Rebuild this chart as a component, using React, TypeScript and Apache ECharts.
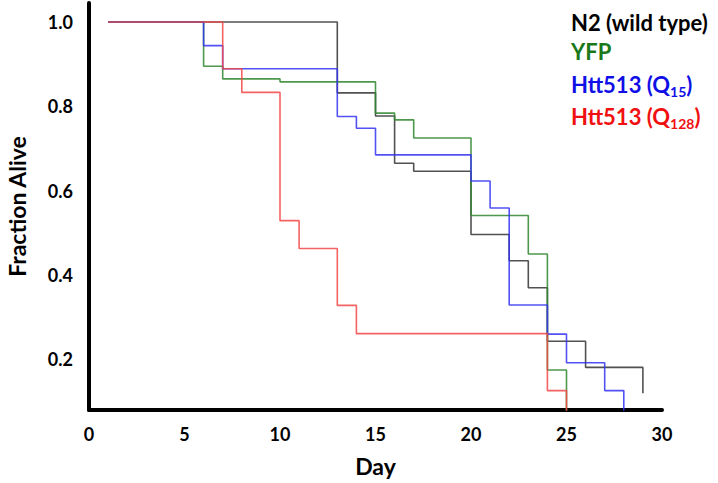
import React, { useEffect, useRef } from "react";
import * as echarts from "echarts";

// Kaplan–Meier style survival steps (day of event, fraction alive after it)
const n2Days = [1, 13, 15, 16, 17, 20, 22, 23, 24, 26, 29];
const n2Vals = [1.0, 0.832, 0.777, 0.665, 0.646, 0.496, 0.434, 0.37, 0.243, 0.181, 0.12];

const yfpDays = [1, 6, 7, 10, 15, 16, 17, 20, 23, 24, 25];
const yfpVals = [1.0, 0.895, 0.865, 0.858, 0.784, 0.768, 0.725, 0.541, 0.45, 0.175, 0];

const q15Days = [1, 6, 7, 13, 14, 15, 20, 21, 22, 24, 25, 27, 28];
const q15Vals = [1.0, 0.944, 0.889, 0.776, 0.748, 0.685, 0.623, 0.559, 0.329, 0.26, 0.192, 0.126, 0];

const q128Days = [1, 7, 8, 10, 11, 13, 14, 24, 25];
const q128Vals = [1.0, 0.889, 0.833, 0.529, 0.463, 0.328, 0.261, 0.126, 0];

const yTickLabels = [0.2, 0.4, 0.6, 0.8, 1.0];
const xTickLabels = [0, 5, 10, 15, 20, 25, 30];

const FONT = "Lato, 'Open Sans', sans-serif";

const pairs = (d: number[], v: number[]) => d.map((x, i) => [x, v[i]]);

export default function App() {
  const ref = useRef<HTMLDivElement>(null);
  useEffect(() => {
    document.body.style.margin = "0";
    const chart = echarts.init(ref.current!, null, { renderer: "svg" });
    const mk = (name: string, d: number[], v: number[], color: string) => ({
      name,
      type: "line",
      step: "end",
      data: pairs(d, v),
      showSymbol: false,
      symbol: "none",
      clip: true,
      lineStyle: { color, width: 1.6, opacity: 0.85 },
      emphasis: { disabled: true },
    });
    const legendStyle = (color: string) => ({
      a: { fontSize: 22, fontWeight: "bold", fill: color, fontFamily: FONT, lineHeight: 28, verticalAlign: "middle" },
      b: { fontSize: 14, fontWeight: "bold", fill: color, fontFamily: FONT, lineHeight: 16, verticalAlign: "bottom", padding: [10, 0, 0, 0] },
    });
    chart.setOption({
      animation: false,
      backgroundColor: "#fff",
      grid: { left: 89, top: 3, width: 573, height: 407, containLabel: false, outerBoundsMode: "none" },
      xAxis: {
        type: "value",
        min: 0,
        max: 30,
        interval: 5,
        name: "Day",
        nameLocation: "middle",
        nameGap: 44,
        nameTextStyle: { fontSize: 23, fontWeight: "bold", color: "#000", fontFamily: FONT },
        axisLine: { show: true, onZero: false, lineStyle: { color: "#000", width: 4 } },
        axisTick: { show: false },
        splitLine: { show: false },
        axisLabel: {
          customValues: xTickLabels,
          margin: 15,
          fontSize: 18,
          fontWeight: "bold",
          color: "#000",
          fontFamily: FONT,
        },
      },
      yAxis: {
        type: "value",
        min: 0.08,
        max: 1.045,
        name: "Fraction Alive",
        nameLocation: "middle",
        nameRotate: 90,
        nameGap: 61,
        nameTextStyle: { fontSize: 23, fontWeight: "bold", color: "#000", fontFamily: FONT },
        axisLine: { show: true, onZero: false, lineStyle: { color: "#000", width: 4 } },
        axisTick: { show: false },
        splitLine: { show: false },
        axisLabel: {
          customValues: yTickLabels,
          formatter: (v: number) => v.toFixed(1),
          margin: 16,
          fontSize: 18,
          fontWeight: "bold",
          color: "#000",
          fontFamily: FONT,
        },
      },
      series: [
        mk("N2 (wild type)", n2Days, n2Vals, "#333333"),
        mk("YFP", yfpDays, yfpVals, "#2e862e"),
        mk("Htt513 (Q15)", q15Days, q15Vals, "#3434f2"),
        mk("Htt513 (Q128)", q128Days, q128Vals, "#f24646"),
      ],
      graphic: [
        { type: "text", x: 571, y: 22, style: { text: "N2 (wild type)", fill: "#000", font: `bold 22px ${FONT}`, verticalAlign: "middle" } },
        { type: "text", x: 571, y: 51, style: { text: "YFP", fill: "#1a781a", font: `bold 22px ${FONT}`, verticalAlign: "middle" } },
        {
          type: "text",
          x: 571,
          y: 84,
          style: { text: "{a|Htt513 (Q}{b|15}{a|)}", rich: legendStyle("#1010e6"), verticalAlign: "middle" },
        },
        {
          type: "text",
          x: 571,
          y: 116,
          style: { text: "{a|Htt513 (Q}{b|128}{a|)}", rich: legendStyle("#f01010"), verticalAlign: "middle" },
        },
      ],
    });
    return () => chart.dispose();
  }, []);
  return <div ref={ref} style={{ position: "fixed", left: 0, top: 0, width: 718, height: 483 }} />;
}
